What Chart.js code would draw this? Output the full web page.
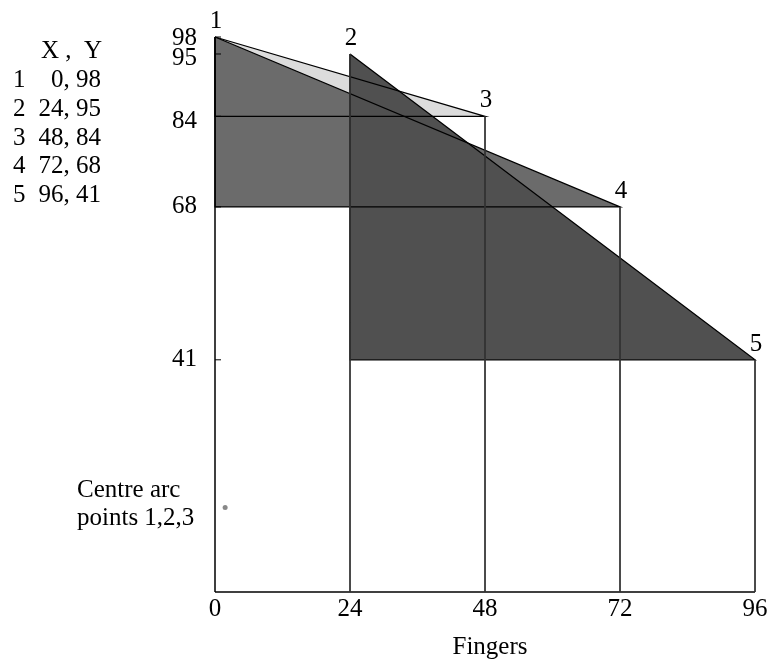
<!DOCTYPE html>
<html>
<head>
<meta charset="utf-8">
<script src="https://cdn.jsdelivr.net/npm/chart.js@4"></script>
<style>
  html, body { margin: 0; padding: 0; background: #fff; }
  canvas { display: block; }
</style>
</head>
<body>
<canvas id="chart" width="775" height="668"></canvas>
<script>
const pointNames = ["1", "2", "3", "4", "5"];
const fingersX = [0, 24, 48, 72, 96];
const heightY = [98, 95, 84, 68, 41];
const xTickValues = [0, 24, 48, 72, 96];
const yTickValues = [98, 95, 84, 68, 41];
const arcCentreX = [1.8];
const arcCentreY = [14.9];
const tableHeader = "X ,  Y";
const noteLines = ["Centre arc", "points 1,2,3"];
const axisTitle = "Fingers";

const FONT = "25px 'Liberation Serif', 'Times New Roman', serif";

function pt(i) {
  return { x: fingersX[i], y: heightY[i] };
}
function corner(i, j) {
  return { x: fingersX[i], y: heightY[j] };
}

// triangles: 1-3 light, 1-4 medium, 2-5 dark
const lightTri = [pt(0), pt(2), corner(0, 2), pt(0)];
const mediumTri = [pt(0), pt(3), corner(0, 3), pt(0)];
const darkTri = [pt(1), pt(4), corner(1, 4), pt(1)];

function fillSet(data, color, order) {
  return {
    data, order, showLine: true, fill: "shape",
    backgroundColor: color, borderWidth: 0, pointRadius: 0, clip: false,
  };
}
function lineSet(data, color, width) {
  return {
    data, order: 0, showLine: true, fill: false,
    borderColor: color, borderWidth: width, pointRadius: 0, clip: false,
  };
}

const datasets = [
  fillSet(lightTri, "#dcdcdc", 5),
  fillSet(mediumTri, "#6b6b6b", 4),
  fillSet(darkTri, "#505050", 3),
];
// drop lines from each point down to the x axis
fingersX.forEach((x, i) => {
  datasets.push(lineSet([pt(i), { x, y: 0 }], i === 0 ? "#000" : "#333", i === 0 ? 1.5 : 1));
});
datasets.push(lineSet([{ x: xTickValues[0], y: 0 }, { x: xTickValues[xTickValues.length - 1], y: 0 }], "#000", 1.5));
datasets.push(lineSet(lightTri, "#000", 1.3));
datasets.push(lineSet(mediumTri, "#000", 1.3));
datasets.push(lineSet(darkTri, "#000", 1.3));
datasets.push({
  data: arcCentreX.map((x, i) => ({ x, y: arcCentreY[i] })),
  order: 0, showLine: false, pointRadius: 2.5, pointBorderWidth: 0,
  pointBackgroundColor: "#888", clip: false,
});

const labelsPlugin = {
  id: "labels",
  afterDraw(chart) {
    const { ctx, scales } = chart;
    const xs = scales.x, ys = scales.y;
    const axisX = xs.getPixelForValue(0);
    ctx.save();
    ctx.fillStyle = "#000";
    ctx.strokeStyle = "#000";
    ctx.font = FONT;

    // y ticks (inward) and labels
    const nudge = { 95: 4, 84: 5, 98: 1 };
    ctx.textAlign = "right";
    ctx.textBaseline = "middle";
    ctx.lineWidth = 1;
    yTickValues.forEach((v) => {
      const py = ys.getPixelForValue(v);
      ctx.beginPath();
      ctx.moveTo(axisX, py);
      ctx.lineTo(axisX + 6, py);
      ctx.stroke();
      ctx.fillText(String(v), axisX - 18, py + (nudge[v] || 0));
    });

    // x labels
    const baseY = ys.getPixelForValue(0);
    ctx.textAlign = "center";
    ctx.textBaseline = "alphabetic";
    xTickValues.forEach((v) => {
      ctx.fillText(String(v), xs.getPixelForValue(v), baseY + 24);
    });
    ctx.fillText(axisTitle, (chart.chartArea.left + chart.chartArea.right) / 2 + 5, baseY + 62);

    // point numbers
    pointNames.forEach((name, i) => {
      ctx.fillText(name, xs.getPixelForValue(fingersX[i]) + 1, ys.getPixelForValue(heightY[i]) - 9);
    });

    // coordinate table
    ctx.textAlign = "left";
    ctx.fillText(tableHeader, 41, 58);
    pointNames.forEach((name, i) => {
      const by = 87 + i * 28.8;
      ctx.textAlign = "left";
      ctx.fillText(name, 13, by);
      ctx.textAlign = "right";
      ctx.fillText(fingersX[i] + ", " + heightY[i], 101, by);
    });

    // note
    ctx.textAlign = "left";
    noteLines.forEach((line, i) => ctx.fillText(line, 77, 497 + i * 28));
    ctx.restore();
  },
};

new Chart(document.getElementById("chart"), {
  type: "scatter",
  data: { datasets },
  options: {
    responsive: false,
    animation: false,
    layout: { padding: { left: 215, right: 20, top: 37, bottom: 76 } },
    scales: {
      x: { type: "linear", min: 0, max: 96, display: false },
      y: { type: "linear", min: 0, max: 98, display: false },
    },
    plugins: { legend: { display: false }, tooltip: { enabled: false } },
  },
  plugins: [labelsPlugin],
});
</script>
</body>
</html>
